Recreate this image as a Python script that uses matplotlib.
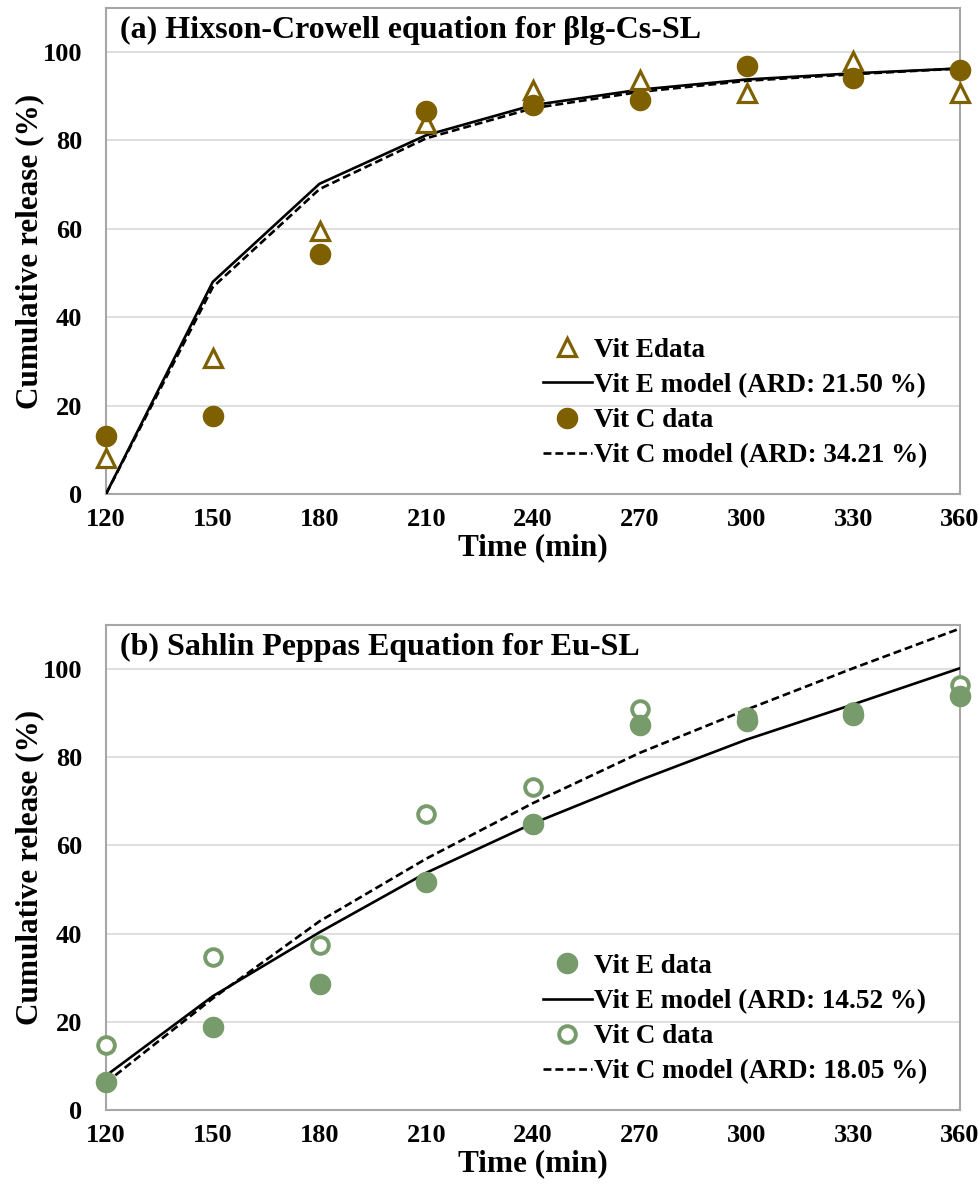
import numpy as np
import matplotlib
matplotlib.use('Agg')
import matplotlib.pyplot as plt

plt.rcParams['font.family'] = ['Liberation Serif', 'DejaVu Serif']
plt.rcParams['font.weight'] = 'bold'
plt.rcParams['axes.labelweight'] = 'bold'

# time points (min)
time = [120, 150, 180, 210, 240, 270, 300, 330, 360]

# (a) Hixson-Crowell, blg-Cs-SL
a_vitE_data = [8.2, 30.8, 59.5, 84.0, 91.5, 93.7, 90.7, 97.9, 90.7]
a_vitE_model = [0.0, 48.0, 70.2, 81.2, 88.0, 91.5, 93.8, 95.2, 96.3]
a_vitC_data = [13.2, 17.6, 54.3, 86.7, 88.0, 89.2, 96.8, 94.2, 96.0]
a_vitC_model = [0.0, 46.8, 69.0, 80.5, 87.3, 91.0, 93.5, 95.0, 96.3]

# (b) Sahlin Peppas, Eu-SL
b_vitE_data = [6.3, 18.8, 28.6, 51.7, 64.8, 87.4, 88.2, 89.6, 94.0]
b_vitE_model = [7.8, 25.8, 40.3, 53.8, 65.0, 74.8, 84.0, 92.0, 100.2]
b_vitC_data = [14.8, 34.6, 37.4, 67.1, 73.2, 90.9, 89.2, 90.3, 96.5]
b_vitC_model = [6.2, 25.3, 42.8, 57.0, 69.6, 81.0, 90.8, 100.2, 109.2]

brown = '#7F6000'
green = '#779B6B'
titles = [u'(a) Hixson-Crowell equation for \u03b2lg-Cs-SL',
          '(b) Sahlin Peppas Equation for Eu-SL']

fig = plt.figure(figsize=(9.79, 12.01), dpi=100)
ax1 = fig.add_axes([0.1083, 0.5887, 0.8723, 0.4047])
ax2 = fig.add_axes([0.1083, 0.0758, 0.8723, 0.4038])

# panel a
ax1.plot(time, a_vitE_data, linestyle='none', marker='^', markersize=13,
         markerfacecolor='white', markeredgecolor=brown, markeredgewidth=2.3,
         label='Vit Edata', clip_on=False, zorder=4)
ax1.plot(time, a_vitE_model, color='black', lw=1.9, label='Vit E model (ARD: 21.50 %)', zorder=3)
ax1.plot(time, a_vitC_data, linestyle='none', marker='o', markersize=14.5,
         color=brown, label='Vit C data', clip_on=False, zorder=5)
ax1.plot(time, a_vitC_model, color='black', lw=1.9, linestyle=(0, (3, 1.5)),
         label='Vit C model (ARD: 34.21 %)', zorder=3)

# panel b
ax2.plot(time, b_vitE_data, linestyle='none', marker='o', markersize=14.5,
         color=green, label='Vit E data', clip_on=False, zorder=5)
ax2.plot(time, b_vitE_model, color='black', lw=1.9, label='Vit E model (ARD: 14.52 %)', zorder=3)
ax2.plot(time, b_vitC_data, linestyle='none', marker='o', markersize=12,
         markerfacecolor='white', markeredgecolor=green, markeredgewidth=2.8,
         label='Vit C data', clip_on=False, zorder=4)
ax2.plot(time, b_vitC_model, color='black', lw=1.9, linestyle=(0, (3, 1.5)),
         label='Vit C model (ARD: 18.05 %)', zorder=3)

for ax, title in zip([ax1, ax2], titles):
    ax.set_xlim(120, 360)
    ax.set_ylim(0, 110)
    ax.set_xticks(time)
    ax.set_yticks([0, 20, 40, 60, 80, 100])
    ax.tick_params(axis='x', length=0, labelsize=19, pad=10)
    ax.tick_params(axis='y', length=0, labelsize=19, pad=17)
    ax.yaxis.grid(True, color='#D9D9D9', lw=1.2)
    ax.set_axisbelow(True)
    for s in ax.spines.values():
        s.set_color('#A6A6A6')
        s.set_linewidth(1.5)
    ax.set_xlabel('Time (min)', fontsize=22.5, labelpad=2)
    ax.set_ylabel('Cumulative release (%)', fontsize=22.5)
    ax.yaxis.set_label_coords(-0.072, 0.5)
    ax.text(0.016, 0.953, title, transform=ax.transAxes, fontsize=23,
            ha='left', va='center')
    ax.legend(loc='lower right', bbox_to_anchor=(0.975, 0.03), frameon=False,
              fontsize=19.5, handlelength=1.8, handletextpad=0.1,
              labelspacing=0.38, borderaxespad=0)

fig.savefig('out.png', dpi=100)
